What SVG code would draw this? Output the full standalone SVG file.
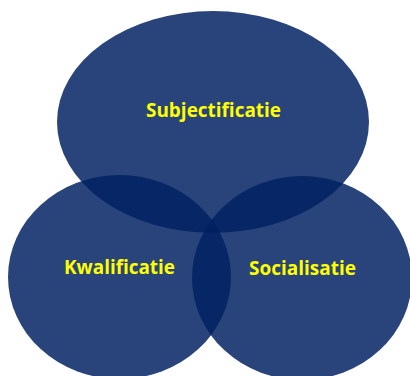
<svg xmlns="http://www.w3.org/2000/svg" width="410" height="376" viewBox="0 0 410 376">
<style>
.c{fill:#002060;fill-opacity:0.84}
.t{font-family:"Open Sans","Liberation Sans",sans-serif;font-weight:bold;font-size:19px;fill:#FFFF00;text-anchor:middle}
</style>
<rect width="410" height="376" fill="#ffffff"/>
<g id="subjectificatie">
<ellipse class="c" cx="213" cy="122" rx="156" ry="111"/>
<text class="t" x="213.5" y="117" textLength="135" lengthAdjust="spacingAndGlyphs">Subjectificatie</text>
</g>
<g id="kwalificatie">
<ellipse class="c" cx="119.5" cy="277" rx="111.5" ry="102"/>
<text class="t" x="119.5" y="274" textLength="111" lengthAdjust="spacingAndGlyphs">Kwalificatie</text>
</g>
<g id="socialisatie">
<ellipse class="c" cx="302" cy="278" rx="110" ry="102"/>
<text class="t" x="302.5" y="275" textLength="107" lengthAdjust="spacingAndGlyphs">Socialisatie</text>
</g>
<g id="connectors"/>
</svg>
